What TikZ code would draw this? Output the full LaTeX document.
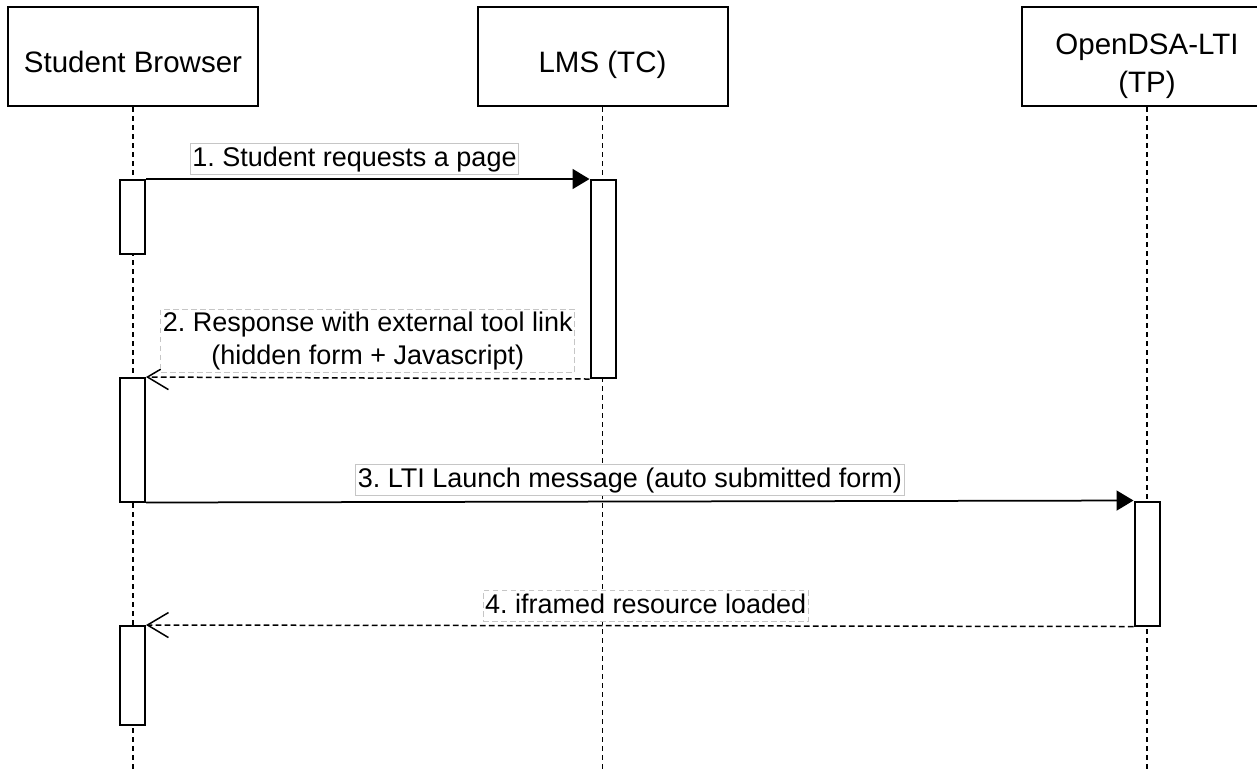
\documentclass[tikz,border=0pt]{standalone}
\usepackage{fontspec}
\setmainfont{Liberation Sans}
\usetikzlibrary{arrows.meta}
\frenchspacing
\begin{document}
\begin{tikzpicture}[x=0.4pt,y=-0.4pt,
    actor/.style={draw,line width=0.8pt,fill=white,minimum width=100pt,
                  minimum height=39.6pt,inner sep=0pt},
    actorname/.style={font=\fontsize{11.8}{15.3}\selectfont,align=center,inner sep=0pt},
    act/.style={draw,line width=0.8pt,fill=white,minimum width=10pt,inner sep=0pt},
    life/.style={line width=0.7pt,dash pattern=on 2pt off 1.6pt},
    msg/.style={line width=0.7pt,-{Triangle[length=6.8pt,width=8pt]}},
    ret/.style={line width=0.6pt,dash pattern=on 2.3pt off 1.3pt,
                -{Straight Barb[length=8.4pt,width=10pt]}},
    lbl/.style={draw=gray!45,line width=0.4pt,fill=white,inner xsep=0.8pt,inner ysep=1.1pt,
                align=center,font=\fontsize{10.8}{13}\selectfont},
    lblone/.style={lbl,text height=8.4pt,text depth=2.4pt,inner ysep=0.8pt}]
  \useasboundingbox (0,0) rectangle (1257,769);

  \node[actor,label={[actorname,yshift=-2.2pt]center:Student Browser}] (sb) at (133,56.5) {};
  \node[actor,label={[actorname,yshift=-3.2pt]center:LMS (TC)}] (lms) at (602.5,56.5) {};
  \node[actor,label={[actorname,yshift=-3.8pt]center:{OpenDSA-LTI\\(TP)}}] (tp) at (1147,56.5) {};

  \coordinate (sbend)  at (133,769);
  \coordinate (lmsend) at (602.5,769);
  \coordinate (tpend)  at (1147,769);
  \draw[life] (sb)  -- (sbend);
  \draw[life] (lms) -- (lmsend);
  \draw[life] (tp)  -- (tpend);

  \node[act,minimum height=29.6pt] (sba1)  at (132.5,217)   {};
  \node[act,minimum height=79.2pt] (lmsa1) at (603,279)     {};
  \node[act,minimum height=49.4pt] (sba2)  at (132.5,439.75) {};
  \node[act,minimum height=49.6pt] (tpa1)  at (1147,563.5)  {};
  \node[act,minimum height=39.6pt] (sba3)  at (132.5,675.5) {};

  \draw[msg] (sba1.north east) -- node[lblone,pos=.47,above=1.6pt]
        {1. Student requests a page} (lmsa1.north west);
  \draw[ret] (lmsa1.south west) -- node[lbl,midway,above=2pt]
        {2. Response with external tool link\\(hidden form + Javascript)} (sba2.north east);
  \draw[msg] (sba2.south east) -- node[lblone,pos=.49,above=2.2pt]
        {3. LTI Launch message (auto submitted form)} (tpa1.north west);
  \draw[ret] (tpa1.south west) -- node[lblone,pos=.494,above=1.4pt]
        {4. iframed resource loaded} (sba3.north east);
\end{tikzpicture}
\end{document}
